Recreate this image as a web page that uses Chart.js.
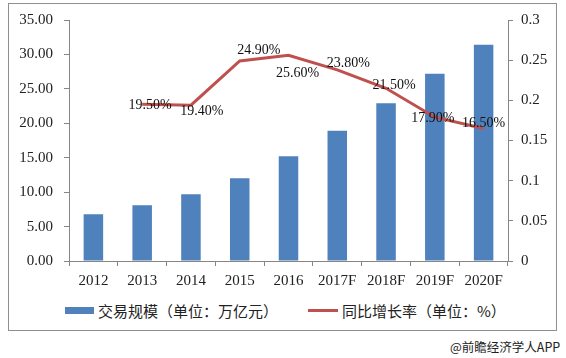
<!DOCTYPE html>
<html>
<head>
<meta charset="utf-8">
<script src="https://cdn.jsdelivr.net/npm/chart.js@4/dist/chart.umd.min.js"></script>
<style>
  body { margin: 0; background: #fff; width: 566px; height: 358px; position: relative; overflow: hidden; }
  #frame { position: absolute; left: 8px; top: 3px; width: 547px; height: 326px; border: 1.5px solid #8f8f8f; }
  #wrap { position: absolute; left: 0; top: 0; width: 566px; height: 300px; }
  .leg { position: absolute; top: 300px; height: 20px; display: flex; align-items: center;
         font-family: "Noto Sans CJK SC", sans-serif; font-size: 15px; color: #222; white-space: nowrap; }
  .leg i { display: inline-block; margin-right: 4px; }
  #src { position: absolute; left: 450px; top: 337px; font-family: "Noto Sans CJK SC", sans-serif; font-size: 12.5px; color: #222; }
</style>
</head>
<body>
<div id="frame"></div>
<div id="wrap"><canvas id="chart"></canvas></div>
<div class="leg" id="leg0" style="left:65px"></div>
<div class="leg" id="leg1" style="left:308px"></div>
<div id="src">@前瞻经济学人APP</div>
<script>
// 数据
const years = ['2012', '2013', '2014', '2015', '2016', '2017F', '2018F', '2019F', '2020F'];
const volume = [6.8, 8.1, 9.7, 12.0, 15.2, 18.9, 22.9, 27.2, 31.4];
const rates = [null, 0.195, 0.194, 0.249, 0.256, 0.238, 0.215, 0.179, 0.165];
const volumeName = '交易规模（单位：万亿元）';
const rateName = '同比增长率（单位：%）';

// 标签偏移（样式）
const labelDx = [0, 8, 11, 19, 9, 11, 8, -2, 0];
const labelDy = [0, 1, 6, -11, 18, -6, -3, 1, -5];

const blue = '#4F81BD';
const red = '#C0504D';
const axisColor = '#868686';
const tickFont = { family: '"Liberation Serif", "Times New Roman", serif', size: 15 };

// 增长率标签
const rateLabels = {
  id: 'rateLabels',
  afterDatasetsDraw(chart) {
    const meta = chart.getDatasetMeta(1);
    const ctx = chart.ctx;
    ctx.save();
    ctx.font = '14px "Liberation Serif", serif';
    ctx.fillStyle = '#111';
    ctx.textAlign = 'center';
    ctx.textBaseline = 'middle';
    meta.data.forEach((pt, i) => {
      if (rates[i] == null) return;
      ctx.fillText((rates[i] * 100).toFixed(2) + '%', pt.x + labelDx[i], pt.y + labelDy[i]);
    });
    ctx.restore();
  }
};

const chart = new Chart(document.getElementById('chart'), {
  type: 'bar',
  data: {
    labels: years,
    datasets: [{
      label: volumeName,
      data: volume,
      backgroundColor: blue,
      barPercentage: 0.4,
      categoryPercentage: 1,
      yAxisID: 'y',
      order: 1
    }, {
      type: 'line',
      label: rateName,
      data: rates,
      borderColor: red,
      borderWidth: 3,
      pointRadius: 0,
      tension: 0,
      yAxisID: 'y1',
      order: 0
    }]
  },
  options: {
    responsive: true,
    maintainAspectRatio: false,
    animation: false,
    layout: { padding: { top: 20, left: 0, right: 0, bottom: 0 } },
    plugins: { legend: { display: false }, tooltip: { enabled: false } },
    scales: {
      x: {
        grid: { drawOnChartArea: false, tickLength: 5, color: axisColor },
        border: { color: axisColor },
        ticks: { font: tickFont, color: '#222', padding: 6, maxRotation: 0 },
        afterFit(s) { s.height = 39; }
      },
      y: {
        min: 0, max: 35,
        grid: { drawOnChartArea: false, tickLength: 5, color: axisColor },
        border: { color: axisColor },
        ticks: { stepSize: 5, font: tickFont, color: '#222', padding: 11,
                 callback: v => v.toFixed(2) },
        afterFit(s) { s.width = 69; }
      },
      y1: {
        position: 'right',
        min: 0, max: 0.3,
        grid: { drawOnChartArea: false, tickLength: 5, color: axisColor },
        border: { color: axisColor },
        ticks: { stepSize: 0.05, font: tickFont, color: '#222', padding: 8,
                 callback: v => String(+v.toFixed(2)) },
        afterFit(s) { s.width = 58; }
      }
    }
  },
  plugins: [rateLabels]
});

// 图例
document.getElementById('leg0').innerHTML =
  '<i style="width:29px;height:7px;background:' + blue + '"></i>' + volumeName;
document.getElementById('leg1').innerHTML =
  '<i style="width:30px;height:3px;background:' + red + '"></i>' + rateName;
</script>
</body>
</html>
